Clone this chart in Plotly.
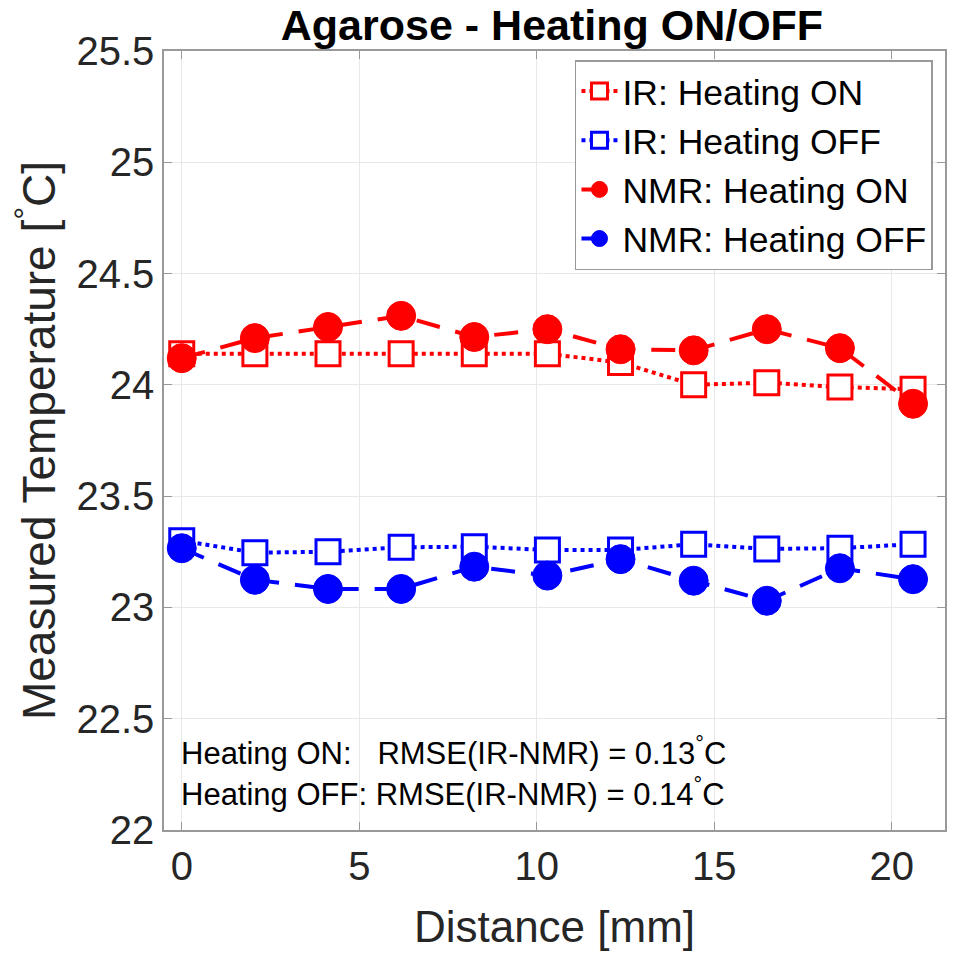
import plotly.graph_objects as go

# ---- data ----
distance_mm = [0, 2.06, 4.12, 6.18, 8.24, 10.3, 12.36, 14.42, 16.48, 18.54, 20.6]
ir_heating_on = [24.14, 24.14, 24.14, 24.14, 24.14, 24.14, 24.10, 24.00, 24.01, 23.99, 23.98]
ir_heating_off = [23.30, 23.246, 23.25, 23.27, 23.273, 23.258, 23.258, 23.284, 23.263, 23.266, 23.284]
nmr_heating_on = [24.12, 24.21, 24.26, 24.31, 24.215, 24.25, 24.16, 24.155, 24.25, 24.165, 23.915]
nmr_heating_off = [23.266, 23.124, 23.083, 23.083, 23.183, 23.143, 23.217, 23.12, 23.03, 23.176, 23.127]

x_ticks = [0, 5, 10, 15, 20]
y_ticks = [22, 22.5, 23, 23.5, 24, 24.5, 25, 25.5]

FONT = "Liberation Sans, Arial, Helvetica, sans-serif"
RED = "#FF0000"
BLUE = "#0000FF"

fig = go.Figure()

fig.add_trace(go.Scatter(
    x=distance_mm, y=ir_heating_on, name="IR: Heating ON", mode="lines+markers",
    line=dict(color=RED, width=4, dash="dot"),
    marker=dict(symbol="square", size=24, color="white", line=dict(color=RED, width=3)),
))
fig.add_trace(go.Scatter(
    x=distance_mm, y=ir_heating_off, name="IR: Heating OFF", mode="lines+markers",
    line=dict(color=BLUE, width=4, dash="dot"),
    marker=dict(symbol="square", size=24, color="white", line=dict(color=BLUE, width=3)),
))
fig.add_trace(go.Scatter(
    x=distance_mm, y=nmr_heating_on, name="NMR: Heating ON", mode="lines+markers",
    line=dict(color=RED, width=4, dash="24px,16px"),
    marker=dict(symbol="circle", size=29, color=RED, line=dict(color=RED, width=1)),
))
fig.add_trace(go.Scatter(
    x=distance_mm, y=nmr_heating_off, name="NMR: Heating OFF", mode="lines+markers",
    line=dict(color=BLUE, width=4, dash="24px,16px"),
    marker=dict(symbol="circle", size=29, color=BLUE, line=dict(color=BLUE, width=1)),
))

axis_common = dict(
    showline=True, linecolor="#999999", linewidth=1.5, mirror="ticks",
    ticks="inside", ticklen=8, tickcolor="#999999", tickwidth=1,
    showgrid=True, gridcolor="#e8e8e8", gridwidth=1,
    zeroline=False,
    tickfont=dict(family=FONT, size=40, color="#262626"),
)

fig.update_xaxes(
    range=[-0.5, 21.5], tickvals=x_ticks, ticktext=[str(v) for v in x_ticks],
    title=dict(text="Distance [mm]", font=dict(family=FONT, size=44, color="#262626"), standoff=24),
    **axis_common,
)
fig.update_yaxes(
    range=[22, 25.5], tickvals=y_ticks, ticktext=[f"{v:g}" for v in y_ticks],
    title=dict(text="Measured Temperature [<sup>°</sup>C]", font=dict(family=FONT, size=46, color="#262626"), standoff=6),
    **axis_common,
)

fig.add_annotation(
    x=0.0192, y=0.1014, xref="paper", yref="paper", xanchor="left", yanchor="middle",
    text="Heating ON:\u00a0\u00a0\u00a0RMSE(IR-NMR) = 0.13<sup>°</sup>C", showarrow=False,
    font=dict(family=FONT, size=31, color="black"),
)
fig.add_annotation(
    x=0.0192, y=0.0488, xref="paper", yref="paper", xanchor="left", yanchor="middle",
    text="Heating OFF: RMSE(IR-NMR) = 0.14<sup>°</sup>C", showarrow=False,
    font=dict(family=FONT, size=31, color="black"),
)

fig.update_layout(
    width=965, height=965,
    margin=dict(l=164, r=20, t=51, b=135),
    paper_bgcolor="white", plot_bgcolor="white",
    title=dict(text="<b>Agarose - Heating ON/OFF</b>", x=0.572, xanchor="center",
               y=1 - 25 / 965, yanchor="middle", yref="container",
               font=dict(family=FONT, size=43, color="black")),
    legend=dict(
        x=0.9846, y=0.9884, xanchor="right", yanchor="top",
        bgcolor="white", bordercolor="#999999", borderwidth=1.5,
        font=dict(family=FONT, size=35.5, color="black"),
        itemwidth=36, tracegroupgap=0,
    ),
    showlegend=True,
)

fig.write_html("out.html")
